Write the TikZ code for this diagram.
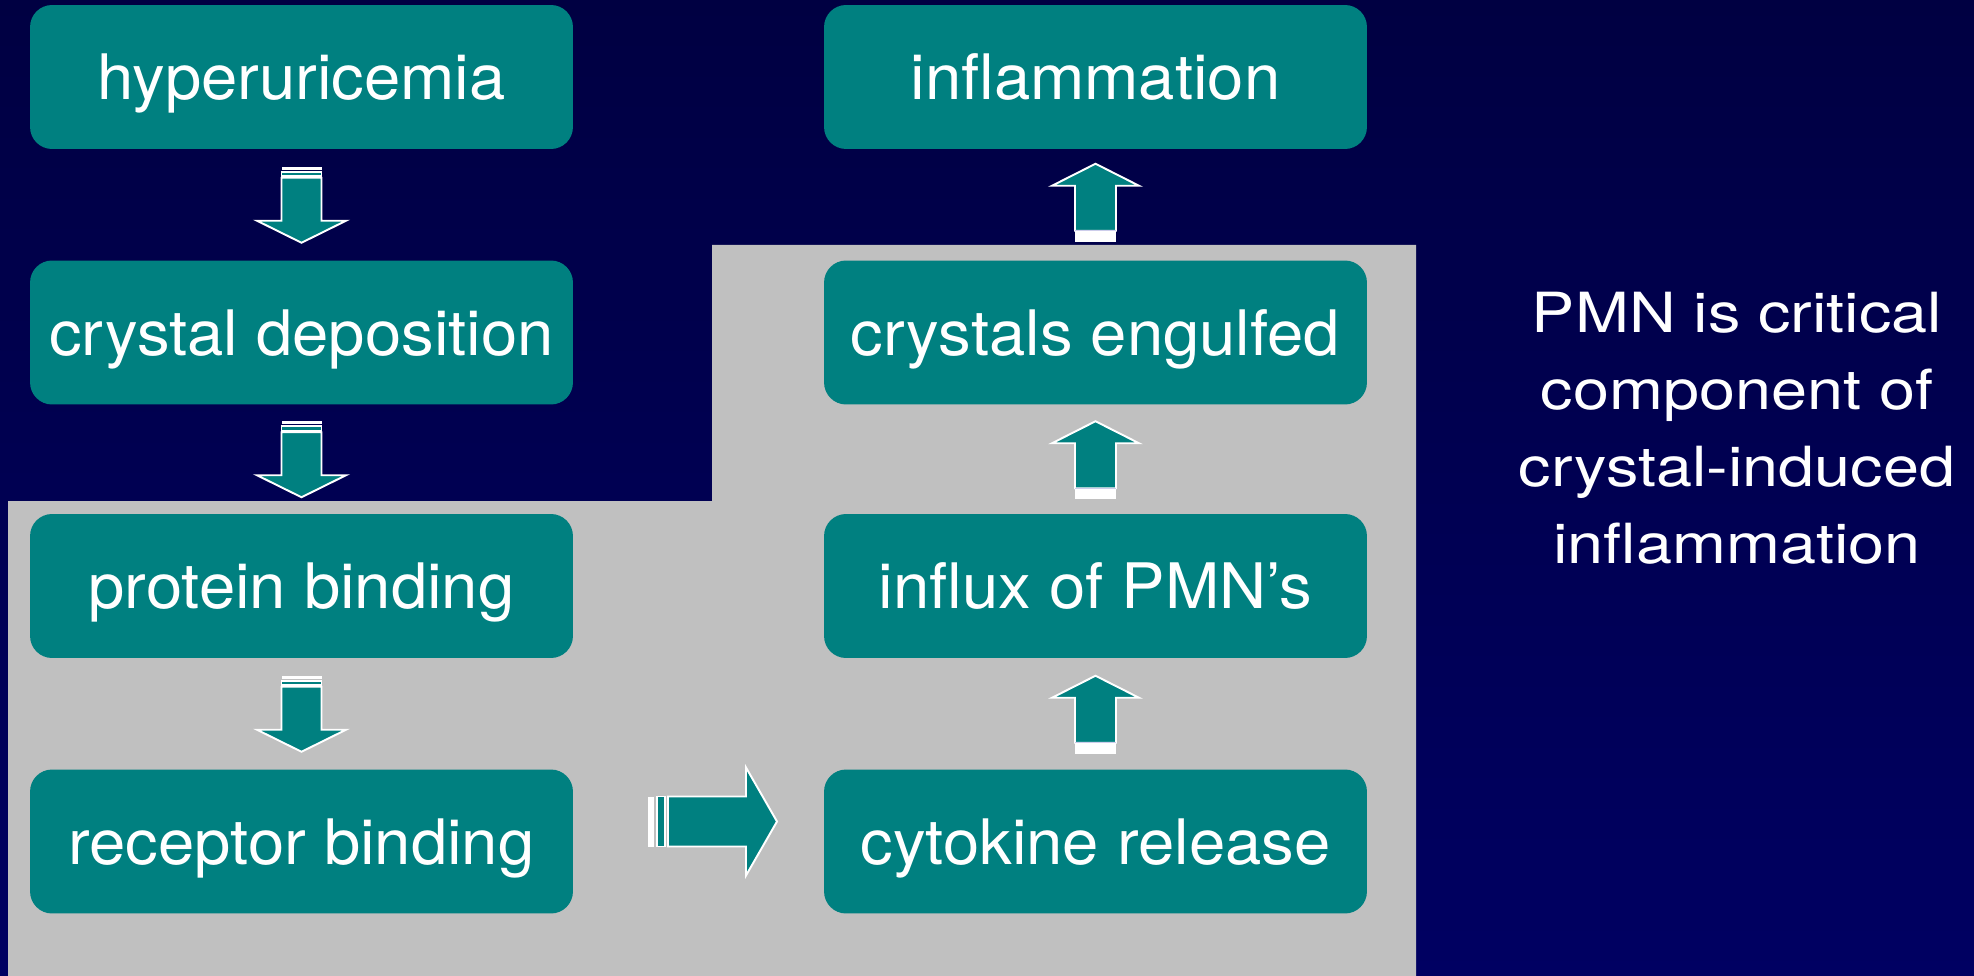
\documentclass[tikz,border=0pt]{standalone}
\usepackage{fontspec}
\setmainfont{TeX Gyre Heros}
\newfontfamily\boxfont[FakeStretch=1.04]{TeX Gyre Heros}
\newfontfamily\notefont[FakeStretch=1.17]{TeX Gyre Heros}
\usetikzlibrary{calc}

\definecolor{boxteal}{RGB}{0,128,128}
\definecolor{panelgrey}{RGB}{192,192,192}
\definecolor{bgtop}{RGB}{0,0,66}
\definecolor{bgbot}{RGB}{0,0,98}
\definecolor{seam}{RGB}{205,205,235}

\tikzset{
  box/.style={rectangle, rounded corners=0.44cm, fill=boxteal, text=white,
    minimum width=10.86cm, minimum height=2.88cm, inner sep=0pt, text depth=0pt,
    font=\boxfont\fontsize{35.7}{42}\selectfont},
  note/.style={text=white, align=center, inner sep=0pt,
    font=\notefont\fontsize{31.5}{43.8}\selectfont},
  arrowbody/.style={fill=boxteal, draw=white, line width=1.1pt, line join=miter},
  % block arrow pointing along +x: length/tail/head length/shaft half/head half
  pics/stripearrow/.style args={#1/#2/#3/#4/#5}{code={
    \path[arrowbody] ({-#1/2+#2},-#4) -- ({#1/2-#3},-#4) -- ({#1/2-#3},-#5)
      -- ({#1/2},0) -- ({#1/2-#3},#5) -- ({#1/2-#3},#4) -- ({-#1/2+#2},#4) -- cycle;
    \fill[white] ({-#1/2},-#4) rectangle ({-#1/2+0.28*#2},#4);
    \path[arrowbody] ({-#1/2+0.45*#2},-#4) rectangle ({-#1/2+0.85*#2},#4);
  }},
  pics/tailarrow/.style args={#1/#2/#3/#4/#5}{code={
    \path[arrowbody] ({-#1/2+#2},-#4) -- ({#1/2-#3},-#4) -- ({#1/2-#3},-#5)
      -- ({#1/2},0) -- ({#1/2-#3},#5) -- ({#1/2-#3},#4) -- ({-#1/2+#2},#4) -- cycle;
    \fill[white] ({-#1/2},-#4) rectangle ({-#1/2+#2},#4);
    \draw[seam, line width=0.5pt] ({-#1/2+#2},-#4) -- ({-#1/2+#2},#4);
  }}
}

\begin{document}
\begin{tikzpicture}[x=0.02cm, y=-0.02cm]
  \useasboundingbox (0,0) rectangle (1974,976);
  \shade[top color=bgtop, bottom color=bgbot] (0,0) rectangle (1974,976);
  % grey step behind the lower boxes
  \fill[panelgrey] (8,976) -- (8,501) -- (712,501) -- (712,245)
    -- (1416,245) -- (1416,976) -- cycle;

  \node[box] (hyper)  at (301.5,77)    {hyperuricemia};
  \node[box] (depo)   at (301.5,332.5) {crystal deposition};
  \node[box] (prot)   at (301.5,586)   {protein binding};
  \node[box] (recep)  at (301.5,841.5) {receptor binding};
  \node[box] (infl)   at (1095.5,77)    {inflammation};
  \node[box] (engulf) at (1095.5,332.5) {crystals engulfed};
  \node[box] (influx) at (1095.5,586)   {influx of PMN’s};
  \node[box] (cyto)   at (1095.5,841.5) {cytokine release};

  \node[note] (pmn) at (1737,428)
    {PMN is critical\\component of\\crystal-induced\\inflammation};

  % arrows down the left column
  \pic[rotate=-90] at ($(hyper.south)!0.5!(depo.north)$) {stripearrow=76/11/22/20/44.5};
  \pic[rotate=-90] at ($(depo.south)!0.5!(prot.north)$) {stripearrow=76/11/22/20/44.5};
  \pic[rotate=-90] at ($(prot.south)!0.5!(recep.north)$) {stripearrow=76/11/22/20/44.5};
  % across and up the right column
  \pic at ($(recep.east)!0.5!(cyto.west)+(14,-20)$) {stripearrow=129/20/31/25/54};
  \pic[rotate=90] at ($(cyto.north)!0.5!(influx.south)+(0,1)$) {tailarrow=78/11/22/20.5/43.5};
  \pic[rotate=90] at ($(influx.north)!0.5!(engulf.south)+(0,1)$) {tailarrow=78/11/22/20.5/43.5};
  \pic[rotate=90] at ($(engulf.north)!0.5!(infl.south)+(0,-2)$) {tailarrow=78/11/22/20.5/43.5};
\end{tikzpicture}
\end{document}
